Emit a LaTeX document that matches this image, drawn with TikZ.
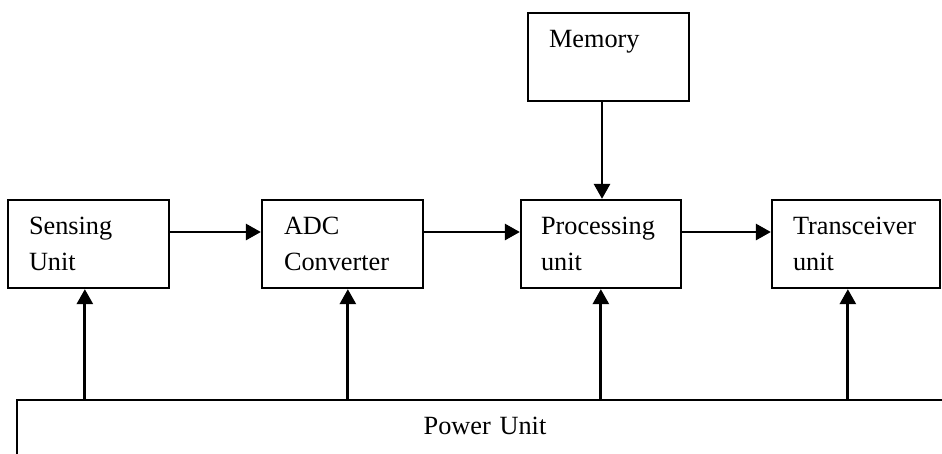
\documentclass[tikz,border=0pt]{standalone}
\usepackage{fontspec}
\setmainfont{Liberation Serif}
\usetikzlibrary{arrows.meta}
\begin{document}
\begin{tikzpicture}[x=1pt,y=-1pt,
  box/.style={draw=black, line width=2.3pt, rectangle, minimum height=88pt, inner sep=0pt,
    font=\fontsize{26.3}{36}\selectfont, align=left},
  arr/.style={line width=2.8pt, -{Triangle[length=15pt,width=16pt]}}]
\useasboundingbox (0,0) rectangle (942,453);
\fill[white] (0,0) rectangle (942,453);
\begin{scope}
\clip (0,0) rectangle (942,453);
\node[box, minimum width=161pt, text width=119pt] (sense) at (88.5,244) {Sensing\\Unit};
\node[box, minimum width=161pt, text width=117pt] (adc) at (342.5,244) {ADC\\Converter};
\node[box, minimum width=160pt, text width=120pt] (proc) at (601,244) {Processing\\unit};
\node[box, minimum width=168pt, text width=126pt] (trans) at (856,244) {Transceiver\\unit};
\node[box, minimum width=161pt, text width=119pt] (mem) at (608.5,57) {Memory\\\mbox{}};
\node[box, minimum width=936pt, minimum height=88pt, text width=900pt, align=center] (power) at (485,444) {Power Unit\\\mbox{}};
\end{scope}
\draw[arr] ([yshift=12pt]sense.east) -- ([yshift=12pt]adc.west);
\draw[arr] ([yshift=12pt]adc.east) -- ([yshift=12pt]proc.west);
\draw[arr] ([yshift=12pt]proc.east) -- ([yshift=12pt]trans.west);
\path ([xshift=-6.5pt]mem.south) coordinate (m1);
\draw[arr] (m1) -- (m1 |- proc.north);
\path ([xshift=69pt]power.north west) coordinate (p1);
\path ([xshift=332pt]power.north west) coordinate (p2);
\path ([xshift=585pt]power.north west) coordinate (p3);
\path ([xshift=832pt]power.north west) coordinate (p4);
\draw[arr] (p1) -- (p1 |- sense.south);
\draw[arr] (p2) -- (p2 |- adc.south);
\draw[arr] (p3) -- (p3 |- proc.south);
\draw[arr] (p4) -- (p4 |- trans.south);
\end{tikzpicture}
\end{document}
